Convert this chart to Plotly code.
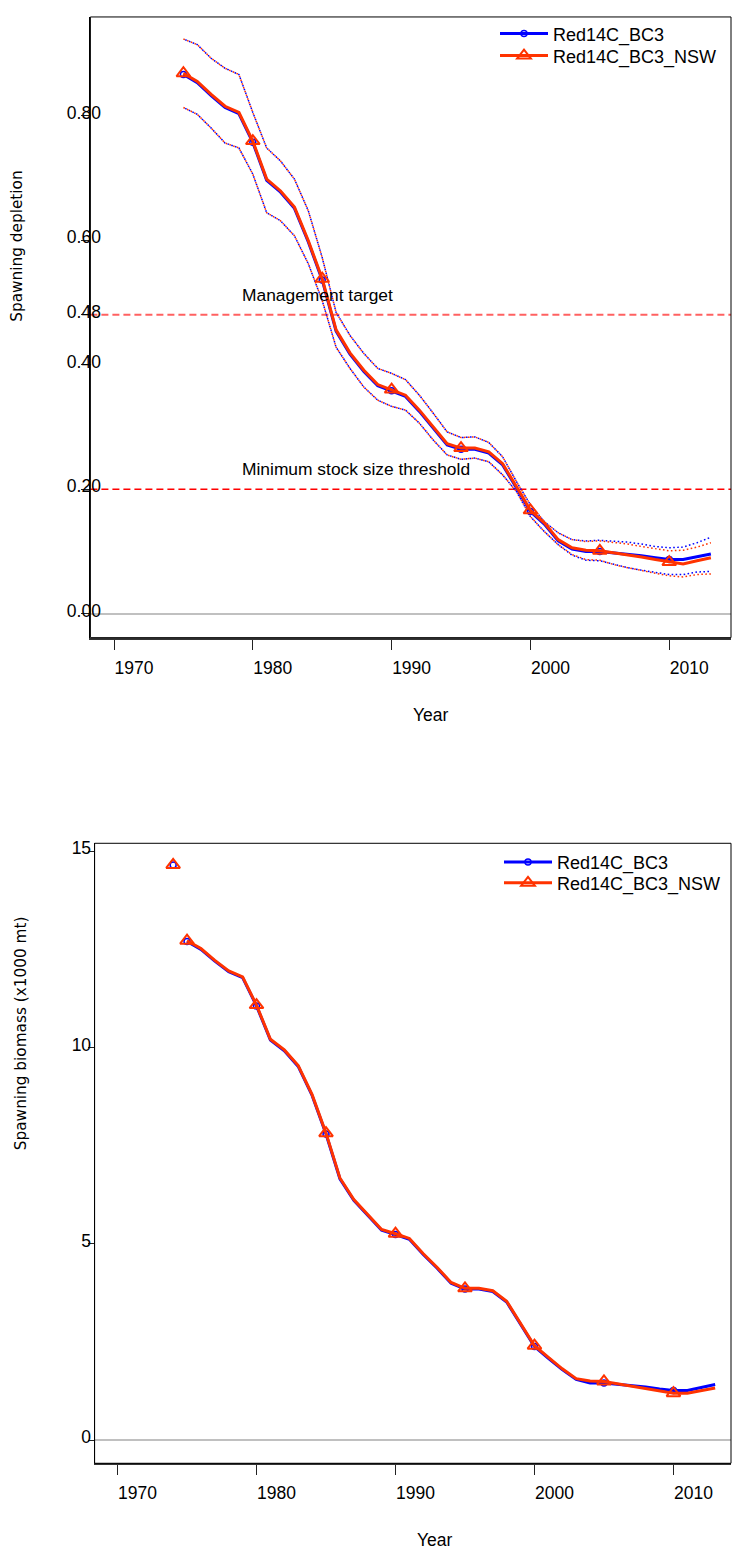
import plotly.graph_objects as go

# ---------------- data ----------------
years = list(range(1975, 2014))
marker_years = [1975, 1980, 1985, 1990, 1995, 2000, 2005, 2010]
model_names = ["Red14C_BC3", "Red14C_BC3_NSW"]

# Spawning depletion (central estimates)
dep_bc3 = [0.866, 0.853, 0.832, 0.813, 0.803, 0.757, 0.696, 0.677, 0.651, 0.597,
           0.536, 0.454, 0.417, 0.389, 0.366, 0.358, 0.349, 0.325, 0.298, 0.271,
           0.264, 0.264, 0.258, 0.239, 0.202, 0.164, 0.144, 0.117, 0.104, 0.100,
           0.100, 0.098, 0.096, 0.093, 0.090, 0.087, 0.087, 0.092, 0.096]
dep_nsw = [0.868, 0.855, 0.834, 0.815, 0.805, 0.759, 0.698, 0.679, 0.653, 0.599,
           0.538, 0.456, 0.419, 0.391, 0.368, 0.360, 0.351, 0.327, 0.300, 0.273,
           0.266, 0.266, 0.260, 0.241, 0.204, 0.166, 0.146, 0.119, 0.106, 0.102,
           0.101, 0.098, 0.095, 0.091, 0.087, 0.083, 0.080, 0.085, 0.090]
# uncertainty bounds
dep_hi_bc3 = [0.923, 0.914, 0.892, 0.876, 0.866, 0.805, 0.748, 0.727, 0.698, 0.647,
              0.572, 0.484, 0.447, 0.418, 0.394, 0.386, 0.376, 0.351, 0.322, 0.292,
              0.283, 0.284, 0.275, 0.252, 0.212, 0.175, 0.148, 0.130, 0.119, 0.117,
              0.118, 0.117, 0.115, 0.112, 0.108, 0.106, 0.107, 0.114, 0.123]
dep_hi_nsw = [0.923, 0.914, 0.892, 0.876, 0.866, 0.805, 0.748, 0.727, 0.698, 0.647,
              0.572, 0.484, 0.447, 0.418, 0.394, 0.386, 0.376, 0.351, 0.322, 0.292,
              0.283, 0.284, 0.275, 0.252, 0.212, 0.175, 0.148, 0.130, 0.119, 0.116,
              0.117, 0.115, 0.112, 0.108, 0.104, 0.101, 0.102, 0.107, 0.114]
dep_lo_bc3 = [0.813, 0.802, 0.780, 0.756, 0.748, 0.706, 0.644, 0.631, 0.607, 0.562,
              0.503, 0.428, 0.394, 0.364, 0.343, 0.333, 0.327, 0.306, 0.279, 0.255,
              0.248, 0.250, 0.244, 0.223, 0.196, 0.156, 0.132, 0.111, 0.094, 0.086,
              0.085, 0.079, 0.074, 0.070, 0.066, 0.063, 0.063, 0.067, 0.068]
dep_lo_nsw = [0.813, 0.802, 0.780, 0.756, 0.748, 0.706, 0.644, 0.631, 0.607, 0.562,
              0.503, 0.428, 0.394, 0.364, 0.343, 0.333, 0.327, 0.306, 0.279, 0.255,
              0.248, 0.250, 0.244, 0.223, 0.196, 0.156, 0.132, 0.111, 0.095, 0.087,
              0.086, 0.079, 0.074, 0.069, 0.065, 0.061, 0.059, 0.063, 0.064]

# Spawning biomass (x1000 mt)
ssb_bc3 = [12.70, 12.50, 12.20, 11.93, 11.78, 11.06, 10.19, 9.92, 9.52, 8.78,
           7.80, 6.66, 6.11, 5.73, 5.35, 5.24, 5.12, 4.73, 4.38, 4.00,
           3.85, 3.85, 3.79, 3.52, 2.96, 2.39, 2.09, 1.80, 1.55, 1.46,
           1.46, 1.43, 1.40, 1.36, 1.31, 1.27, 1.27, 1.35, 1.42]
ssb_nsw = [12.72, 12.52, 12.22, 11.95, 11.80, 11.08, 10.21, 9.94, 9.54, 8.80,
           7.82, 6.68, 6.13, 5.75, 5.37, 5.26, 5.14, 4.75, 4.40, 4.02,
           3.87, 3.87, 3.81, 3.54, 2.98, 2.41, 2.11, 1.82, 1.57, 1.51,
           1.50, 1.44, 1.38, 1.32, 1.26, 1.20, 1.20, 1.27, 1.33]
virgin_year = 1974
ssb0_bc3 = 14.65
ssb0_nsw = 14.65

# reference levels
ref_levels = [0.48, 0.20]
ref_labels = ["Management target", "Minimum stock size threshold"]
ref_label_x = 1979.1

# ticks
year_ticks = [1970, 1980, 1990, 2000, 2010]
dep_ticks = [0.0, 0.2, 0.4, 0.48, 0.6, 0.8]
dep_tick_labels = ["0.00", "0.20", "0.40", "0.48", "0.60", "0.80"]
ssb_ticks = [0, 5, 10, 15]
ssb_tick_labels = ["0", "5", "10", "15"]

x_title = "Year"
dep_title = "Spawning depletion"
ssb_title = "Spawning biomass (x1000 mt)"

# ---------------- styling ----------------
W, H = 734, 1549
COLORS = ["#0000FF", "#FF3300"]
SYMBOLS = ["circle-open", "triangle-up-open"]
MSIZE = [6, 12]
MLW = [1.5, 2.0]
SANS = "Liberation Sans, Arial, sans-serif"
WIDE = "DejaVu Sans, Verdana, sans-serif"
FS = 17.5


def px_x(p):
    return p / W


def px_y(p):
    return (H - p) / H


sel_idx = [years.index(y) for y in marker_years]

fig = go.Figure()

# top panel: uncertainty (dotted)
for (hi, lo, col, dash) in zip([dep_hi_bc3, dep_hi_nsw], [dep_lo_bc3, dep_lo_nsw],
                               COLORS, ["0px,2px,1.6px,0.4px", "1.6px,2.4px"]):
    for series in (hi, lo):
        fig.add_trace(go.Scatter(
            x=years, y=series, mode="lines", xaxis="x", yaxis="y",
            line=dict(color=col, width=1.5, dash=dash),
            showlegend=False, hoverinfo="skip"))

# top panel: central lines
for i, (vals, leg) in enumerate(zip([dep_bc3, dep_nsw], ["legend", "legend3"])):
    fig.add_trace(go.Scatter(
        x=years, y=vals, mode="lines+markers", name=model_names[i],
        xaxis="x", yaxis="y", legend=leg,
        line=dict(color=COLORS[i], width=3),
        marker=dict(symbol=SYMBOLS[i], size=MSIZE[i], color=COLORS[i],
                    line=dict(color=COLORS[i], width=MLW[i])),
        selectedpoints=sel_idx,
        unselected=dict(marker=dict(opacity=0)),
        hoverinfo="skip"))

# bottom panel
for i, (vals, v0, leg) in enumerate(zip([ssb_bc3, ssb_nsw], [ssb0_bc3, ssb0_nsw],
                                        ["legend2", "legend4"])):
    fig.add_trace(go.Scatter(
        x=[virgin_year], y=[v0], mode="markers", xaxis="x2", yaxis="y2",
        marker=dict(symbol=SYMBOLS[i], size=MSIZE[i], color=COLORS[i],
                    line=dict(color=COLORS[i], width=MLW[i])),
        showlegend=False, hoverinfo="skip"))
    fig.add_trace(go.Scatter(
        x=years, y=vals, mode="lines+markers", name=model_names[i],
        xaxis="x2", yaxis="y2", legend=leg,
        line=dict(color=COLORS[i], width=3),
        marker=dict(symbol=SYMBOLS[i], size=MSIZE[i], color=COLORS[i],
                    line=dict(color=COLORS[i], width=MLW[i])),
        selectedpoints=sel_idx,
        unselected=dict(marker=dict(opacity=0)),
        hoverinfo="skip"))

xcommon = dict(tickvals=year_ticks, ticks="outside", ticklen=10, tickwidth=1.2,
               tickcolor="#222", showline=True, linecolor="#333", linewidth=2,
               showgrid=False, zeroline=False,
               tickfont=dict(family=SANS, size=FS, color="black"),
               ticklabelshift=20, ticklabelstandoff=3)
ycommon = dict(ticks="outside", tickwidth=1.2, tickcolor="#222",
               showline=True, linecolor="black", linewidth=1,
               showgrid=False, zeroline=True, zerolinecolor="#C0C0C0",
               zerolinewidth=1.5,
               tickfont=dict(family=SANS, size=FS, color="black"))


def legend_at(x_px, y_px):
    return dict(x=px_x(x_px), y=px_y(y_px), xanchor="left", yanchor="middle",
                bgcolor="rgba(0,0,0,0)", itemwidth=48,
                font=dict(family=SANS, size=18, color="black"))


fig.update_layout(
    width=W, height=H, autosize=False,
    margin=dict(l=0, r=0, t=0, b=0),
    paper_bgcolor="white", plot_bgcolor="white",
    xaxis=dict(domain=[px_x(90.4), px_x(731)], range=[1968.3, 2014.45],
               anchor="y", **xcommon),
    yaxis=dict(domain=[px_y(634.7), px_y(12)], range=[-0.0384, 0.9584],
               anchor="x", tickvals=dep_ticks, ticktext=dep_tick_labels,
               ticklen=8, ticklabelstandoff=-23, ticklabelshift=-3, **ycommon),
    xaxis2=dict(domain=[px_x(94.6), px_x(731)], range=[1968.35, 2014.14],
                anchor="y2", **xcommon),
    yaxis2=dict(domain=[px_y(1463), px_y(841)], range=[-0.584, 15.2],
                anchor="x2", tickvals=ssb_ticks, ticktext=ssb_tick_labels,
                ticklen=6, ticklabelstandoff=-7, ticklabelshift=-3, **ycommon),
    legend=legend_at(495, 29),
    legend3=legend_at(495, 51),
    legend2=legend_at(499, 860),
    legend4=legend_at(499, 881),
)

shapes = []
for xr, yr in (("x domain", "y domain"), ("x2 domain", "y2 domain")):
    shapes.append(dict(type="rect", xref=xr, yref=yr, x0=0, x1=1, y0=0, y1=1,
                       line=dict(color="black", width=1), layer="above"))
for lvl, col, w in zip(ref_levels, ["rgba(255,0,0,0.62)", "#FF0000"], [2, 1.6]):
    shapes.append(dict(type="line", xref="x domain", yref="y", x0=0, x1=1,
                       y0=lvl, y1=lvl, line=dict(color=col, width=w,
                                                 dash="7px,4px"),
                       layer="below"))
fig.update_layout(shapes=shapes)

ann = []
for lvl, txt in zip(ref_levels, ref_labels):
    ann.append(dict(x=ref_label_x, y=lvl, xref="x", yref="y", text=txt,
                    showarrow=False, xanchor="left", yanchor="middle",
                    yshift=20, font=dict(family=SANS, size=17.4,
                                         color="black")))
ann.append(dict(x=px_x(431), y=px_y(712), xref="paper", yref="paper",
                text=x_title, showarrow=False, xanchor="center",
                yanchor="middle", font=dict(family=SANS, size=FS,
                                            color="black")))
ann.append(dict(x=px_x(435), y=px_y(1540), xref="paper", yref="paper",
                text=x_title, showarrow=False, xanchor="center",
                yanchor="middle", font=dict(family=SANS, size=FS,
                                            color="black")))
ann.append(dict(x=px_x(17), y=px_y(242.5), xref="paper", yref="paper",
                text=dep_title, showarrow=False, textangle=-90,
                xanchor="center", yanchor="middle",
                font=dict(family=WIDE, size=15.3, color="black")))
ann.append(dict(x=px_x(21), y=px_y(1031.5), xref="paper", yref="paper",
                text=ssb_title, showarrow=False, textangle=-90,
                xanchor="center", yanchor="middle",
                font=dict(family=WIDE, size=15.3, color="black")))
fig.update_layout(annotations=ann)

fig.write_html("out.html")
